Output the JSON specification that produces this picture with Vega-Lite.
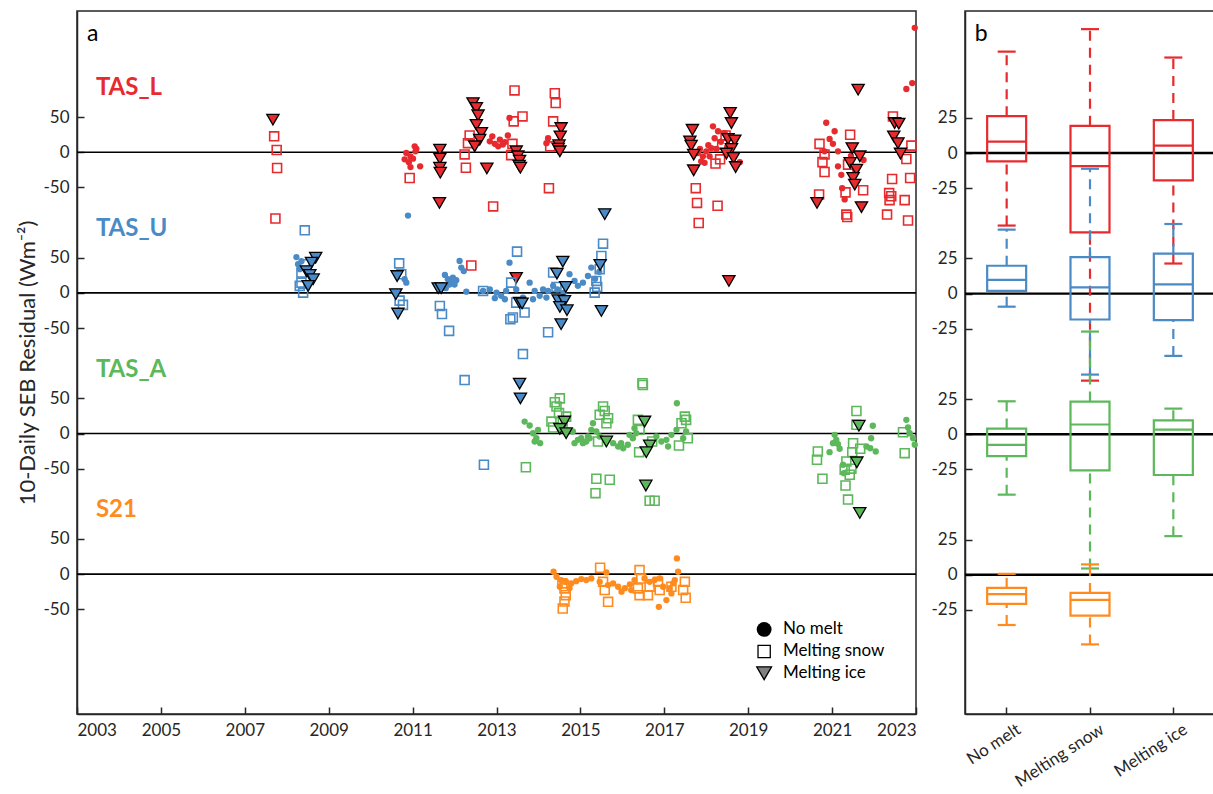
{
"$schema":"https://vega.github.io/schema/vega-lite/v6.json",
"background":"white",
"padding":{"left":15,"top":10,"right":0,"bottom":0},
"datasets":{
"pts":[
{"series":"TAS_L","type":"No melt","year":2010.81,"v":-10},{"series":"TAS_L","type":"No melt","year":2010.85,"v":-1},{"series":"TAS_L","type":"No melt","year":2010.91,"v":-14},{"series":"TAS_L","type":"No melt","year":2010.95,"v":-6},{"series":"TAS_L","type":"No melt","year":2010.95,"v":-21},{"series":"TAS_L","type":"No melt","year":2011.01,"v":-9},{"series":"TAS_L","type":"No melt","year":2011.05,"v":8.5},{"series":"TAS_L","type":"No melt","year":2011.07,"v":1.4},{"series":"TAS_L","type":"No melt","year":2011.09,"v":5},{"series":"TAS_L","type":"No melt","year":2011.18,"v":-20},
{"series":"TAS_L","type":"No melt","year":2012.84,"v":15.6},{"series":"TAS_L","type":"No melt","year":2012.96,"v":12},{"series":"TAS_L","type":"No melt","year":2013.08,"v":18},{"series":"TAS_L","type":"No melt","year":2013.2,"v":14.6},{"series":"TAS_L","type":"No melt","year":2013.27,"v":24},{"series":"TAS_L","type":"No melt","year":2013.04,"v":8.5},{"series":"TAS_L","type":"No melt","year":2013.15,"v":11},{"series":"TAS_L","type":"No melt","year":2012.9,"v":22.7},{"series":"TAS_L","type":"No melt","year":2013.31,"v":48.8},{"series":"TAS_L","type":"No melt","year":2014.23,"v":20},{"series":"TAS_L","type":"No melt","year":2014.19,"v":13},
{"series":"TAS_L","type":"No melt","year":2018.16,"v":37},{"series":"TAS_L","type":"No melt","year":2018.2,"v":20},{"series":"TAS_L","type":"No melt","year":2018.12,"v":6},{"series":"TAS_L","type":"No melt","year":2018.0,"v":1.4},{"series":"TAS_L","type":"No melt","year":2017.92,"v":-5.7},{"series":"TAS_L","type":"No melt","year":2017.88,"v":-12.8},{"series":"TAS_L","type":"No melt","year":2018.08,"v":-5.7},{"series":"TAS_L","type":"No melt","year":2018.24,"v":4.7},{"series":"TAS_L","type":"No melt","year":2018.44,"v":27.4},{"series":"TAS_L","type":"No melt","year":2018.28,"v":30},{"series":"TAS_L","type":"No melt","year":2018.8,"v":-14},{"series":"TAS_L","type":"No melt","year":2017.8,"v":-1},{"series":"TAS_L","type":"No melt","year":2017.96,"v":-15},{"series":"TAS_L","type":"No melt","year":2017.85,"v":5},{"series":"TAS_L","type":"No melt","year":2018.05,"v":10},{"series":"TAS_L","type":"No melt","year":2018.35,"v":15},{"series":"TAS_L","type":"No melt","year":2018.5,"v":8},
{"series":"TAS_L","type":"No melt","year":2020.86,"v":42},{"series":"TAS_L","type":"No melt","year":2021.06,"v":30},{"series":"TAS_L","type":"No melt","year":2020.94,"v":19},{"series":"TAS_L","type":"No melt","year":2021.02,"v":12},{"series":"TAS_L","type":"No melt","year":2021.14,"v":1.4},{"series":"TAS_L","type":"No melt","year":2020.82,"v":1.4},{"series":"TAS_L","type":"No melt","year":2021.14,"v":-20},{"series":"TAS_L","type":"No melt","year":2021.22,"v":-32},{"series":"TAS_L","type":"No melt","year":2021.24,"v":-51},{"series":"TAS_L","type":"No melt","year":2021.3,"v":-67},{"series":"TAS_L","type":"No melt","year":2021.75,"v":-11},{"series":"TAS_L","type":"No melt","year":2022.77,"v":90},{"series":"TAS_L","type":"No melt","year":2022.91,"v":98.5},{"series":"TAS_L","type":"No melt","year":2022.97,"v":177},{"series":"TAS_L","type":"No melt","year":2021.45,"v":-5},{"series":"TAS_L","type":"No melt","year":2021.55,"v":-25},
{"series":"TAS_L","type":"Melting snow","year":2007.7,"v":22.7},{"series":"TAS_L","type":"Melting snow","year":2007.76,"v":3.3},{"series":"TAS_L","type":"Melting snow","year":2007.77,"v":-22.3},{"series":"TAS_L","type":"Melting snow","year":2007.73,"v":-94.2},{"series":"TAS_L","type":"Melting snow","year":2010.93,"v":-36.5},{"series":"TAS_L","type":"Melting snow","year":2012.36,"v":24},{"series":"TAS_L","type":"Melting snow","year":2012.32,"v":13},{"series":"TAS_L","type":"Melting snow","year":2012.24,"v":-3},{"series":"TAS_L","type":"Melting snow","year":2012.27,"v":-22},{"series":"TAS_L","type":"Melting snow","year":2013.43,"v":88},{"series":"TAS_L","type":"Melting snow","year":2013.62,"v":51},{"series":"TAS_L","type":"Melting snow","year":2013.41,"v":44},{"series":"TAS_L","type":"Melting snow","year":2013.38,"v":12},{"series":"TAS_L","type":"Melting snow","year":2013.35,"v":-4},{"series":"TAS_L","type":"Melting snow","year":2012.92,"v":-77},{"series":"TAS_L","type":"Melting snow","year":2014.39,"v":84},{"series":"TAS_L","type":"Melting snow","year":2014.41,"v":70},{"series":"TAS_L","type":"Melting snow","year":2014.35,"v":44},{"series":"TAS_L","type":"Melting snow","year":2014.25,"v":-51},{"series":"TAS_L","type":"Melting snow","year":2014.28,"v":8.5},{"series":"TAS_L","type":"Melting snow","year":2012.4,"v":-161},
{"series":"TAS_L","type":"Melting snow","year":2018.22,"v":-16},{"series":"TAS_L","type":"Melting snow","year":2018.33,"v":-10},{"series":"TAS_L","type":"Melting snow","year":2018.38,"v":11},{"series":"TAS_L","type":"Melting snow","year":2018.46,"v":24},{"series":"TAS_L","type":"Melting snow","year":2017.75,"v":-51},{"series":"TAS_L","type":"Melting snow","year":2017.78,"v":-72},{"series":"TAS_L","type":"Melting snow","year":2017.82,"v":-100.5},{"series":"TAS_L","type":"Melting snow","year":2018.27,"v":-76},
{"series":"TAS_L","type":"Melting snow","year":2020.7,"v":12},{"series":"TAS_L","type":"Melting snow","year":2020.82,"v":-3},{"series":"TAS_L","type":"Melting snow","year":2020.77,"v":-14},{"series":"TAS_L","type":"Melting snow","year":2020.82,"v":-28},{"series":"TAS_L","type":"Melting snow","year":2020.69,"v":-60},{"series":"TAS_L","type":"Melting snow","year":2021.43,"v":25},{"series":"TAS_L","type":"Melting snow","year":2021.38,"v":-17.5},{"series":"TAS_L","type":"Melting snow","year":2021.32,"v":-57},{"series":"TAS_L","type":"Melting snow","year":2021.34,"v":-88.6},{"series":"TAS_L","type":"Melting snow","year":2021.36,"v":-92},{"series":"TAS_L","type":"Melting snow","year":2021.74,"v":-54},{"series":"TAS_L","type":"Melting snow","year":2022.45,"v":51},{"series":"TAS_L","type":"Melting snow","year":2022.89,"v":9.5},{"series":"TAS_L","type":"Melting snow","year":2022.77,"v":-9.5},{"series":"TAS_L","type":"Melting snow","year":2022.43,"v":-38},{"series":"TAS_L","type":"Melting snow","year":2022.86,"v":-36.5},{"series":"TAS_L","type":"Melting snow","year":2022.36,"v":-58},{"series":"TAS_L","type":"Melting snow","year":2022.41,"v":-62.5},{"series":"TAS_L","type":"Melting snow","year":2022.37,"v":-68},{"series":"TAS_L","type":"Melting snow","year":2022.73,"v":-68},{"series":"TAS_L","type":"Melting snow","year":2022.31,"v":-88.6},{"series":"TAS_L","type":"Melting snow","year":2022.81,"v":-97},
{"series":"TAS_L","type":"Melting ice","year":2007.67,"v":46.5},{"series":"TAS_L","type":"Melting ice","year":2011.65,"v":3.8},{"series":"TAS_L","type":"Melting ice","year":2011.65,"v":-9},{"series":"TAS_L","type":"Melting ice","year":2011.65,"v":-22},{"series":"TAS_L","type":"Melting ice","year":2011.66,"v":-29},{"series":"TAS_L","type":"Melting ice","year":2011.64,"v":-72},{"series":"TAS_L","type":"Melting ice","year":2012.44,"v":70},{"series":"TAS_L","type":"Melting ice","year":2012.52,"v":63},{"series":"TAS_L","type":"Melting ice","year":2012.56,"v":52.6},{"series":"TAS_L","type":"Melting ice","year":2012.52,"v":39},{"series":"TAS_L","type":"Melting ice","year":2012.64,"v":27.5},{"series":"TAS_L","type":"Melting ice","year":2012.6,"v":18},{"series":"TAS_L","type":"Melting ice","year":2012.48,"v":8.5},{"series":"TAS_L","type":"Melting ice","year":2012.77,"v":-23},{"series":"TAS_L","type":"Melting ice","year":2013.47,"v":1.4},{"series":"TAS_L","type":"Melting ice","year":2013.47,"v":-178.6},{"series":"TAS_L","type":"Melting ice","year":2013.51,"v":-5.7},{"series":"TAS_L","type":"Melting ice","year":2013.55,"v":-12},{"series":"TAS_L","type":"Melting ice","year":2013.54,"v":-19},{"series":"TAS_L","type":"Melting ice","year":2013.57,"v":-22},{"series":"TAS_L","type":"Melting ice","year":2014.54,"v":34.5},{"series":"TAS_L","type":"Melting ice","year":2014.52,"v":22.7},{"series":"TAS_L","type":"Melting ice","year":2014.49,"v":10},{"series":"TAS_L","type":"Melting ice","year":2014.47,"v":5.2},{"series":"TAS_L","type":"Melting ice","year":2014.51,"v":1.4},
{"series":"TAS_L","type":"Melting ice","year":2017.67,"v":32},{"series":"TAS_L","type":"Melting ice","year":2017.61,"v":15.6},{"series":"TAS_L","type":"Melting ice","year":2017.64,"v":9.5},{"series":"TAS_L","type":"Melting ice","year":2017.7,"v":-3.3},{"series":"TAS_L","type":"Melting ice","year":2017.7,"v":-25.6},{"series":"TAS_L","type":"Melting ice","year":2018.57,"v":56},{"series":"TAS_L","type":"Melting ice","year":2018.6,"v":41.6},{"series":"TAS_L","type":"Melting ice","year":2018.52,"v":19},{"series":"TAS_L","type":"Melting ice","year":2018.68,"v":17},{"series":"TAS_L","type":"Melting ice","year":2018.6,"v":4.7},{"series":"TAS_L","type":"Melting ice","year":2018.48,"v":-1.8},{"series":"TAS_L","type":"Melting ice","year":2018.65,"v":-8},{"series":"TAS_L","type":"Melting ice","year":2018.7,"v":-21},{"series":"TAS_L","type":"Melting ice","year":2018.54,"v":-183},
{"series":"TAS_L","type":"Melting ice","year":2021.62,"v":89},{"series":"TAS_L","type":"Melting ice","year":2021.48,"v":6},{"series":"TAS_L","type":"Melting ice","year":2021.66,"v":-5.7},{"series":"TAS_L","type":"Melting ice","year":2021.43,"v":-15},{"series":"TAS_L","type":"Melting ice","year":2021.58,"v":-24.6},{"series":"TAS_L","type":"Melting ice","year":2021.5,"v":-36.5},{"series":"TAS_L","type":"Melting ice","year":2021.54,"v":-46},{"series":"TAS_L","type":"Melting ice","year":2021.7,"v":-78},{"series":"TAS_L","type":"Melting ice","year":2020.64,"v":-72},{"series":"TAS_L","type":"Melting ice","year":2022.49,"v":41.6},{"series":"TAS_L","type":"Melting ice","year":2022.59,"v":40.8},{"series":"TAS_L","type":"Melting ice","year":2022.47,"v":22.7},{"series":"TAS_L","type":"Melting ice","year":2022.57,"v":13},{"series":"TAS_L","type":"Melting ice","year":2022.63,"v":-1.8},
{"series":"TAS_U","type":"No melt","year":2008.23,"v":51},{"series":"TAS_U","type":"No melt","year":2008.27,"v":40.8},{"series":"TAS_U","type":"No melt","year":2008.31,"v":33.7},{"series":"TAS_U","type":"No melt","year":2008.35,"v":45},{"series":"TAS_U","type":"No melt","year":2010.81,"v":19.4},{"series":"TAS_U","type":"No melt","year":2010.85,"v":14.6},{"series":"TAS_U","type":"No melt","year":2010.89,"v":110},{"series":"TAS_U","type":"No melt","year":2011.77,"v":25.6},{"series":"TAS_U","type":"No melt","year":2011.84,"v":19.4},{"series":"TAS_U","type":"No melt","year":2011.92,"v":17},{"series":"TAS_U","type":"No melt","year":2011.96,"v":21.7},{"series":"TAS_U","type":"No melt","year":2012.04,"v":18},{"series":"TAS_U","type":"No melt","year":2011.88,"v":12},{"series":"TAS_U","type":"No melt","year":2012.0,"v":12},{"series":"TAS_U","type":"No melt","year":2012.12,"v":45.5},{"series":"TAS_U","type":"No melt","year":2012.16,"v":36},{"series":"TAS_U","type":"No melt","year":2012.22,"v":31},{"series":"TAS_U","type":"No melt","year":2011.79,"v":6.7},{"series":"TAS_U","type":"No melt","year":2012.28,"v":1.8},{"series":"TAS_U","type":"No melt","year":2012.68,"v":2.8},{"series":"TAS_U","type":"No melt","year":2012.84,"v":5},{"series":"TAS_U","type":"No melt","year":2013.0,"v":0.4},{"series":"TAS_U","type":"No melt","year":2013.11,"v":-4},{"series":"TAS_U","type":"No melt","year":2013.23,"v":2.8},{"series":"TAS_U","type":"No melt","year":2013.31,"v":43},{"series":"TAS_U","type":"No melt","year":2013.47,"v":5},{"series":"TAS_U","type":"No melt","year":2013.63,"v":-6.7},{"series":"TAS_U","type":"No melt","year":2013.79,"v":14.6},{"series":"TAS_U","type":"No melt","year":2013.91,"v":2.8},{"series":"TAS_U","type":"No melt","year":2014.03,"v":-4},{"series":"TAS_U","type":"No melt","year":2014.11,"v":5},{"series":"TAS_U","type":"No melt","year":2014.23,"v":2.8},{"series":"TAS_U","type":"No melt","year":2014.35,"v":10},{"series":"TAS_U","type":"No melt","year":2014.74,"v":26.6},{"series":"TAS_U","type":"No melt","year":2014.86,"v":17},{"series":"TAS_U","type":"No melt","year":2014.94,"v":10},{"series":"TAS_U","type":"No melt","year":2015.06,"v":14.6},{"series":"TAS_U","type":"No melt","year":2015.18,"v":24},{"series":"TAS_U","type":"No melt","year":2015.26,"v":36},{"series":"TAS_U","type":"No melt","year":2012.96,"v":-7.5},{"series":"TAS_U","type":"No melt","year":2013.2,"v":-9},{"series":"TAS_U","type":"No melt","year":2013.87,"v":-9},{"series":"TAS_U","type":"No melt","year":2014.19,"v":-6.7},{"series":"TAS_U","type":"No melt","year":2014.45,"v":5},{"series":"TAS_U","type":"No melt","year":2014.6,"v":0},{"series":"TAS_U","type":"No melt","year":2015.35,"v":20},{"series":"TAS_U","type":"No melt","year":2015.45,"v":30},
{"series":"TAS_U","type":"Melting snow","year":2008.43,"v":89},{"series":"TAS_U","type":"Melting snow","year":2008.43,"v":40.8},{"series":"TAS_U","type":"Melting snow","year":2008.35,"v":29},{"series":"TAS_U","type":"Melting snow","year":2008.31,"v":10},{"series":"TAS_U","type":"Melting snow","year":2008.39,"v":0.4},{"series":"TAS_U","type":"Melting snow","year":2008.35,"v":14.6},{"series":"TAS_U","type":"Melting snow","year":2010.68,"v":42},{"series":"TAS_U","type":"Melting snow","year":2010.73,"v":26.6},{"series":"TAS_U","type":"Melting snow","year":2010.69,"v":-11},{"series":"TAS_U","type":"Melting snow","year":2010.77,"v":-17},{"series":"TAS_U","type":"Melting snow","year":2011.65,"v":-18.5},{"series":"TAS_U","type":"Melting snow","year":2011.7,"v":-30},{"series":"TAS_U","type":"Melting snow","year":2011.87,"v":-54},{"series":"TAS_U","type":"Melting snow","year":2012.24,"v":-124},{"series":"TAS_U","type":"Melting snow","year":2012.7,"v":-244.5},{"series":"TAS_U","type":"Melting snow","year":2012.68,"v":2.8},{"series":"TAS_U","type":"Melting snow","year":2013.49,"v":58.7},{"series":"TAS_U","type":"Melting snow","year":2013.35,"v":14.6},{"series":"TAS_U","type":"Melting snow","year":2013.47,"v":-13.8},{"series":"TAS_U","type":"Melting snow","year":2013.67,"v":-28},{"series":"TAS_U","type":"Melting snow","year":2013.39,"v":-35},{"series":"TAS_U","type":"Melting snow","year":2013.33,"v":-37.4},{"series":"TAS_U","type":"Melting snow","year":2013.63,"v":-87},{"series":"TAS_U","type":"Melting snow","year":2014.23,"v":-56},{"series":"TAS_U","type":"Melting snow","year":2014.35,"v":29},{"series":"TAS_U","type":"Melting snow","year":2014.43,"v":8.5},{"series":"TAS_U","type":"Melting snow","year":2015.54,"v":70},{"series":"TAS_U","type":"Melting snow","year":2015.5,"v":52.6},{"series":"TAS_U","type":"Melting snow","year":2015.46,"v":33.7},{"series":"TAS_U","type":"Melting snow","year":2015.38,"v":17},{"series":"TAS_U","type":"Melting snow","year":2015.4,"v":8.5},{"series":"TAS_U","type":"Melting snow","year":2015.34,"v":0.4},
{"series":"TAS_U","type":"Melting ice","year":2008.69,"v":50},{"series":"TAS_U","type":"Melting ice","year":2008.59,"v":43},{"series":"TAS_U","type":"Melting ice","year":2008.47,"v":31},{"series":"TAS_U","type":"Melting ice","year":2008.55,"v":25.6},{"series":"TAS_U","type":"Melting ice","year":2008.63,"v":19.4},{"series":"TAS_U","type":"Melting ice","year":2008.51,"v":10},{"series":"TAS_U","type":"Melting ice","year":2010.63,"v":24},{"series":"TAS_U","type":"Melting ice","year":2010.6,"v":-1.8},{"series":"TAS_U","type":"Melting ice","year":2010.65,"v":-29.4},{"series":"TAS_U","type":"Melting ice","year":2011.61,"v":6.7},{"series":"TAS_U","type":"Melting ice","year":2011.68,"v":6.7},{"series":"TAS_U","type":"Melting ice","year":2013.55,"v":-13.8},{"series":"TAS_U","type":"Melting ice","year":2013.61,"v":-15},{"series":"TAS_U","type":"Melting ice","year":2013.55,"v":-129},{"series":"TAS_U","type":"Melting ice","year":2013.57,"v":-150},{"series":"TAS_U","type":"Melting ice","year":2014.58,"v":44.5},{"series":"TAS_U","type":"Melting ice","year":2014.44,"v":27.4},{"series":"TAS_U","type":"Melting ice","year":2014.65,"v":8.5},{"series":"TAS_U","type":"Melting ice","year":2014.47,"v":-10.4},{"series":"TAS_U","type":"Melting ice","year":2014.62,"v":-11.4},{"series":"TAS_U","type":"Melting ice","year":2014.51,"v":-20},{"series":"TAS_U","type":"Melting ice","year":2014.68,"v":-24.6},{"series":"TAS_U","type":"Melting ice","year":2014.54,"v":-44.5},{"series":"TAS_U","type":"Melting ice","year":2015.58,"v":112},{"series":"TAS_U","type":"Melting ice","year":2015.47,"v":39.8},{"series":"TAS_U","type":"Melting ice","year":2015.5,"v":-25.6},
{"series":"TAS_A","type":"No melt","year":2013.67,"v":17},{"series":"TAS_A","type":"No melt","year":2013.79,"v":11.4},{"series":"TAS_A","type":"No melt","year":2013.99,"v":5.2},{"series":"TAS_A","type":"No melt","year":2013.87,"v":0.4},{"series":"TAS_A","type":"No melt","year":2013.95,"v":-6.7},{"series":"TAS_A","type":"No melt","year":2014.04,"v":-13.8},{"series":"TAS_A","type":"No melt","year":2013.91,"v":-11.4},{"series":"TAS_A","type":"No melt","year":2014.82,"v":2.8},{"series":"TAS_A","type":"No melt","year":2014.94,"v":-9},{"series":"TAS_A","type":"No melt","year":2015.06,"v":-13.8},{"series":"TAS_A","type":"No melt","year":2015.18,"v":-4.3},{"series":"TAS_A","type":"No melt","year":2015.26,"v":5.2},{"series":"TAS_A","type":"No melt","year":2015.3,"v":14.6},{"series":"TAS_A","type":"No melt","year":2015.38,"v":2.8},{"series":"TAS_A","type":"No melt","year":2015.46,"v":-4.3},{"series":"TAS_A","type":"No melt","year":2015.02,"v":-6.7},{"series":"TAS_A","type":"No melt","year":2014.86,"v":-13.8},{"series":"TAS_A","type":"No melt","year":2015.14,"v":-11.4},{"series":"TAS_A","type":"No melt","year":2015.22,"v":-6.7},{"series":"TAS_A","type":"No melt","year":2015.78,"v":-13.8},{"series":"TAS_A","type":"No melt","year":2015.9,"v":-18.5},{"series":"TAS_A","type":"No melt","year":2016.02,"v":-21},{"series":"TAS_A","type":"No melt","year":2016.13,"v":-16},{"series":"TAS_A","type":"No melt","year":2016.25,"v":-6.7},{"series":"TAS_A","type":"No melt","year":2016.33,"v":0.4},{"series":"TAS_A","type":"No melt","year":2015.97,"v":-13.8},{"series":"TAS_A","type":"No melt","year":2016.17,"v":-1.9},{"series":"TAS_A","type":"No melt","year":2016.29,"v":7.5},{"series":"TAS_A","type":"No melt","year":2016.81,"v":-4.3},{"series":"TAS_A","type":"No melt","year":2016.93,"v":-11.4},{"series":"TAS_A","type":"No melt","year":2017.05,"v":-9},{"series":"TAS_A","type":"No melt","year":2017.17,"v":-1.9},{"series":"TAS_A","type":"No melt","year":2017.29,"v":5.2},{"series":"TAS_A","type":"No melt","year":2017.3,"v":43},{"series":"TAS_A","type":"No melt","year":2017.45,"v":-6.7},{"series":"TAS_A","type":"No melt","year":2017.09,"v":-18.5},{"series":"TAS_A","type":"No melt","year":2017.52,"v":2.8},
{"series":"TAS_A","type":"No melt","year":2021.06,"v":-1.9},{"series":"TAS_A","type":"No melt","year":2021.1,"v":-9},{"series":"TAS_A","type":"No melt","year":2021.02,"v":-13.8},{"series":"TAS_A","type":"No melt","year":2021.14,"v":-15},{"series":"TAS_A","type":"No melt","year":2020.94,"v":-26.6},{"series":"TAS_A","type":"No melt","year":2021.18,"v":-21.7},{"series":"TAS_A","type":"No melt","year":2021.97,"v":11},{"series":"TAS_A","type":"No melt","year":2021.93,"v":-6.7},{"series":"TAS_A","type":"No melt","year":2021.82,"v":-18.5},{"series":"TAS_A","type":"No melt","year":2021.91,"v":-21},{"series":"TAS_A","type":"No melt","year":2022.04,"v":-25.6},{"series":"TAS_A","type":"No melt","year":2021.26,"v":-44.5},{"series":"TAS_A","type":"No melt","year":2021.28,"v":-56.4},{"series":"TAS_A","type":"No melt","year":2022.77,"v":19.4},{"series":"TAS_A","type":"No melt","year":2022.85,"v":0.4},{"series":"TAS_A","type":"No melt","year":2022.93,"v":-6.7},{"series":"TAS_A","type":"No melt","year":2022.97,"v":-16},{"series":"TAS_A","type":"No melt","year":2022.81,"v":8.5},
{"series":"TAS_A","type":"Melting snow","year":2014.51,"v":50},{"series":"TAS_A","type":"Melting snow","year":2014.39,"v":44.5},{"series":"TAS_A","type":"Melting snow","year":2014.43,"v":38.4},{"series":"TAS_A","type":"Melting snow","year":2014.49,"v":29},{"series":"TAS_A","type":"Melting snow","year":2014.66,"v":24},{"series":"TAS_A","type":"Melting snow","year":2014.31,"v":17},{"series":"TAS_A","type":"Melting snow","year":2014.58,"v":17},{"series":"TAS_A","type":"Melting snow","year":2014.35,"v":8.5},{"series":"TAS_A","type":"Melting snow","year":2013.7,"v":-48},{"series":"TAS_A","type":"Melting snow","year":2015.54,"v":38.4},{"series":"TAS_A","type":"Melting snow","year":2015.58,"v":32},{"series":"TAS_A","type":"Melting snow","year":2015.46,"v":26.6},{"series":"TAS_A","type":"Melting snow","year":2015.66,"v":21.7},{"series":"TAS_A","type":"Melting snow","year":2015.62,"v":14.6},{"series":"TAS_A","type":"Melting snow","year":2015.42,"v":-11.4},{"series":"TAS_A","type":"Melting snow","year":2015.38,"v":-64.4},{"series":"TAS_A","type":"Melting snow","year":2015.7,"v":-65.8},{"series":"TAS_A","type":"Melting snow","year":2015.36,"v":-84.9},{"series":"TAS_A","type":"Melting snow","year":2016.48,"v":71.5},{"series":"TAS_A","type":"Melting snow","year":2016.49,"v":69},{"series":"TAS_A","type":"Melting snow","year":2016.37,"v":19.4},{"series":"TAS_A","type":"Melting snow","year":2016.41,"v":5.2},{"series":"TAS_A","type":"Melting snow","year":2016.4,"v":-26.6},{"series":"TAS_A","type":"Melting snow","year":2016.71,"v":-11.4},{"series":"TAS_A","type":"Melting snow","year":2016.65,"v":-95.7},{"series":"TAS_A","type":"Melting snow","year":2016.77,"v":-95.7},{"series":"TAS_A","type":"Melting snow","year":2017.49,"v":24},{"series":"TAS_A","type":"Melting snow","year":2017.52,"v":19.4},{"series":"TAS_A","type":"Melting snow","year":2017.41,"v":14.6},{"series":"TAS_A","type":"Melting snow","year":2017.56,"v":-6.7},{"series":"TAS_A","type":"Melting snow","year":2017.35,"v":-17},
{"series":"TAS_A","type":"Melting snow","year":2021.58,"v":32},{"series":"TAS_A","type":"Melting snow","year":2021.58,"v":12.4},{"series":"TAS_A","type":"Melting snow","year":2021.5,"v":-13.8},{"series":"TAS_A","type":"Melting snow","year":2021.48,"v":-26.6},{"series":"TAS_A","type":"Melting snow","year":2021.67,"v":-21.7},{"series":"TAS_A","type":"Melting snow","year":2020.66,"v":-25.6},{"series":"TAS_A","type":"Melting snow","year":2020.64,"v":-37.4},{"series":"TAS_A","type":"Melting snow","year":2020.77,"v":-64.4},{"series":"TAS_A","type":"Melting snow","year":2021.34,"v":-39.8},{"series":"TAS_A","type":"Melting snow","year":2021.3,"v":-51.6},{"series":"TAS_A","type":"Melting snow","year":2021.46,"v":-50},{"series":"TAS_A","type":"Melting snow","year":2021.42,"v":-58.7},{"series":"TAS_A","type":"Melting snow","year":2021.32,"v":-74},{"series":"TAS_A","type":"Melting snow","year":2021.38,"v":-94},{"series":"TAS_A","type":"Melting snow","year":2022.69,"v":1.8},{"series":"TAS_A","type":"Melting snow","year":2022.73,"v":-28},
{"series":"TAS_A","type":"Melting ice","year":2014.62,"v":17},{"series":"TAS_A","type":"Melting ice","year":2014.51,"v":6.7},{"series":"TAS_A","type":"Melting ice","year":2014.66,"v":0.4},{"series":"TAS_A","type":"Melting ice","year":2015.62,"v":-11.4},{"series":"TAS_A","type":"Melting ice","year":2016.53,"v":17},{"series":"TAS_A","type":"Melting ice","year":2016.65,"v":-17},{"series":"TAS_A","type":"Melting ice","year":2016.57,"v":-26.6},{"series":"TAS_A","type":"Melting ice","year":2016.56,"v":-74},{"series":"TAS_A","type":"Melting ice","year":2021.64,"v":11},{"series":"TAS_A","type":"Melting ice","year":2021.59,"v":-41},{"series":"TAS_A","type":"Melting ice","year":2021.66,"v":-113},
{"series":"S21","type":"No melt","year":2014.36,"v":3.3},{"series":"S21","type":"No melt","year":2014.43,"v":-3.8},{"series":"S21","type":"No melt","year":2014.54,"v":-8.5},{"series":"S21","type":"No melt","year":2014.66,"v":-11},{"series":"S21","type":"No melt","year":2014.78,"v":-13.2},{"series":"S21","type":"No melt","year":2014.9,"v":-10},{"series":"S21","type":"No melt","year":2015.02,"v":-7.1},{"series":"S21","type":"No melt","year":2015.14,"v":-8.5},{"series":"S21","type":"No melt","year":2015.26,"v":-6.2},{"series":"S21","type":"No melt","year":2014.74,"v":-20},{"series":"S21","type":"No melt","year":2014.51,"v":-18},{"series":"S21","type":"No melt","year":2015.46,"v":-11},{"series":"S21","type":"No melt","year":2015.62,"v":2.4},{"series":"S21","type":"No melt","year":2015.66,"v":-15.6},{"series":"S21","type":"No melt","year":2015.78,"v":-13.2},{"series":"S21","type":"No melt","year":2015.9,"v":-18},{"series":"S21","type":"No melt","year":2015.98,"v":-25},{"series":"S21","type":"No melt","year":2016.06,"v":-20},{"series":"S21","type":"No melt","year":2016.18,"v":-14.6},{"series":"S21","type":"No melt","year":2016.29,"v":-8.5},{"series":"S21","type":"No melt","year":2016.21,"v":-22.7},{"series":"S21","type":"No melt","year":2016.53,"v":-6.2},{"series":"S21","type":"No melt","year":2016.65,"v":-11},{"series":"S21","type":"No melt","year":2016.77,"v":-8.5},{"series":"S21","type":"No melt","year":2016.89,"v":-6.2},{"series":"S21","type":"No melt","year":2016.97,"v":-18},{"series":"S21","type":"No melt","year":2017.13,"v":-20},{"series":"S21","type":"No melt","year":2017.25,"v":-8.5},{"series":"S21","type":"No melt","year":2017.33,"v":3.3},{"series":"S21","type":"No melt","year":2017.3,"v":22.3},{"series":"S21","type":"No melt","year":2017.17,"v":-27.5},{"series":"S21","type":"No melt","year":2017.05,"v":-37},{"series":"S21","type":"No melt","year":2016.87,"v":-46.5},{"series":"S21","type":"No melt","year":2017.21,"v":-13.2},
{"series":"S21","type":"Melting snow","year":2015.47,"v":9},{"series":"S21","type":"Melting snow","year":2015.58,"v":-22.7},{"series":"S21","type":"Melting snow","year":2015.54,"v":-11},{"series":"S21","type":"Melting snow","year":2015.66,"v":-39.4},{"series":"S21","type":"Melting snow","year":2014.57,"v":-13.2},{"series":"S21","type":"Melting snow","year":2014.62,"v":-20.3},{"series":"S21","type":"Melting snow","year":2014.65,"v":-30},{"series":"S21","type":"Melting snow","year":2014.62,"v":-39},{"series":"S21","type":"Melting snow","year":2014.58,"v":-49},{"series":"S21","type":"Melting snow","year":2016.41,"v":5.7},{"series":"S21","type":"Melting snow","year":2016.45,"v":-6.2},{"series":"S21","type":"Melting snow","year":2016.37,"v":-20.3},{"series":"S21","type":"Melting snow","year":2016.41,"v":-30},{"series":"S21","type":"Melting snow","year":2016.65,"v":-18},{"series":"S21","type":"Melting snow","year":2016.61,"v":-30},{"series":"S21","type":"Melting snow","year":2016.85,"v":-11},{"series":"S21","type":"Melting snow","year":2016.89,"v":-22.7},{"series":"S21","type":"Melting snow","year":2017.49,"v":-11},{"series":"S21","type":"Melting snow","year":2017.45,"v":-22.7},{"series":"S21","type":"Melting snow","year":2017.51,"v":-33.6},{"series":"S21","type":"Melting snow","year":2017.17,"v":-18}
],
"box":[
{"series":"TAS_L","cat":"No melt","lo":-51.6,"q1":-5.9,"med":8.1,"q3":26.2,"hi":72.1},
{"series":"TAS_L","cat":"Melting snow","lo":-161.9,"q1":-56.4,"med":-9.3,"q3":19.3,"hi":88.1},
{"series":"TAS_L","cat":"Melting ice","lo":-78.6,"q1":-19.5,"med":5.3,"q3":23.4,"hi":67.9},
{"series":"TAS_U","cat":"No melt","lo":-9.3,"q1":1.9,"med":9.8,"q3":19.8,"hi":45.5},
{"series":"TAS_U","cat":"Melting snow","lo":-57.6,"q1":-18.4,"med":4.5,"q3":25.9,"hi":88.8},
{"series":"TAS_U","cat":"Melting ice","lo":-44.3,"q1":-18.8,"med":6.6,"q3":28.4,"hi":49.5},
{"series":"TAS_A","cat":"No melt","lo":-43,"q1":-15.6,"med":-7.6,"q3":4,"hi":23.4},
{"series":"TAS_A","cat":"Melting snow","lo":-95.5,"q1":-25.7,"med":6.9,"q3":23.2,"hi":73},
{"series":"TAS_A","cat":"Melting ice","lo":-72.5,"q1":-29,"med":3.3,"q3":9.9,"hi":18.2},
{"series":"S21","cat":"No melt","lo":-35.7,"q1":-20.7,"med":-13.8,"q3":-9.3,"hi":0.7},
{"series":"S21","cat":"Melting snow","lo":-49.5,"q1":-29,"med":-17.9,"q3":-12.9,"hi":7.4}
]
},
"bounds":"flush",
"spacing":49,
"hconcat":[
{
"width":839,"height":703,
"data":{"name":"pts"},
"resolve":{"scale":{"y":"independent"}},
"layer":[
{"data":{"values":[{}]},"mark":{"type":"rule","color":"black","strokeWidth":1.6},"encoding":{"y":{"datum":0,"type":"quantitative","scale":{"domain":[-199,801],"nice":false,"zero":false},"axis":{"orient":"left","values":[-50,0,50,150,200,250,350,400,450,550,600,650],"labelExpr":"datum.value - 200*round(datum.value/200)","title":"10-Daily SEB Residual (Wm⁻²)","titleX":-43,"titleBaseline":"alphabetic","titleAngle":-90,"titleFontSize":22}}}},
{"data":{"values":[{}]},"mark":{"type":"rule","color":"black","strokeWidth":1.6},"encoding":{"y":{"datum":200,"type":"quantitative","scale":{"domain":[-199,801],"nice":false,"zero":false},"axis":null}}},
{"data":{"values":[{}]},"mark":{"type":"rule","color":"black","strokeWidth":1.6},"encoding":{"y":{"datum":400,"type":"quantitative","scale":{"domain":[-199,801],"nice":false,"zero":false},"axis":null}}},
{"data":{"values":[{}]},"mark":{"type":"rule","color":"black","strokeWidth":1.6},"encoding":{"y":{"datum":600,"type":"quantitative","scale":{"domain":[-199,801],"nice":false,"zero":false},"axis":null}}},
{"data":{"values":[{}]},"mark":{"type":"text","text":"a","color":"black","fontSize":23,"font":"Lato","align":"left","baseline":"alphabetic"},"encoding":{"x":{"datum":2003.24,"type":"quantitative","scale":{"domain":[2003,2023],"nice":false,"zero":false},"axis":{"orient":"bottom","values":[2003,2005,2007,2009,2011,2013,2015,2017,2019,2021,2023],"format":"d","title":null}},"y":{"datum":758,"type":"quantitative","scale":{"domain":[-199,801],"nice":false,"zero":false},"axis":null}}},
{"data":{"values":[{}]},"mark":{"type":"text","text":"TAS_L","color":"#e62a2e","fontSize":24,"fontWeight":"bold","font":"Lato","align":"left","baseline":"middle"},"encoding":{"x":{"datum":2003.45,"type":"quantitative","scale":{"domain":[2003,2023],"nice":false,"zero":false},"axis":{"orient":"bottom","values":[2003,2005,2007,2009,2011,2013,2015,2017,2019,2021,2023],"format":"d","title":null}},"y":{"datum":691,"type":"quantitative","scale":{"domain":[-199,801],"nice":false,"zero":false},"axis":null}}},
{"data":{"values":[{}]},"mark":{"type":"text","text":"TAS_U","color":"#4a8ac6","fontSize":24,"fontWeight":"bold","font":"Lato","align":"left","baseline":"middle"},"encoding":{"x":{"datum":2003.45,"type":"quantitative","scale":{"domain":[2003,2023],"nice":false,"zero":false},"axis":{"orient":"bottom","values":[2003,2005,2007,2009,2011,2013,2015,2017,2019,2021,2023],"format":"d","title":null}},"y":{"datum":491,"type":"quantitative","scale":{"domain":[-199,801],"nice":false,"zero":false},"axis":null}}},
{"data":{"values":[{}]},"mark":{"type":"text","text":"TAS_A","color":"#5cb85a","fontSize":24,"fontWeight":"bold","font":"Lato","align":"left","baseline":"middle"},"encoding":{"x":{"datum":2003.45,"type":"quantitative","scale":{"domain":[2003,2023],"nice":false,"zero":false},"axis":{"orient":"bottom","values":[2003,2005,2007,2009,2011,2013,2015,2017,2019,2021,2023],"format":"d","title":null}},"y":{"datum":291,"type":"quantitative","scale":{"domain":[-199,801],"nice":false,"zero":false},"axis":null}}},
{"data":{"values":[{}]},"mark":{"type":"text","text":"S21","color":"#ff8b1e","fontSize":24,"fontWeight":"bold","font":"Lato","align":"left","baseline":"middle"},"encoding":{"x":{"datum":2003.45,"type":"quantitative","scale":{"domain":[2003,2023],"nice":false,"zero":false},"axis":{"orient":"bottom","values":[2003,2005,2007,2009,2011,2013,2015,2017,2019,2021,2023],"format":"d","title":null}},"y":{"datum":91,"type":"quantitative","scale":{"domain":[-199,801],"nice":false,"zero":false},"axis":null}}},
{"data":{"values":[{}]},"mark":{"type":"point","shape":"circle","filled":true,"size":220,"color":"black","opacity":1},"encoding":{"x":{"datum":2019.38,"type":"quantitative","scale":{"domain":[2003,2023],"nice":false,"zero":false},"axis":{"orient":"bottom","values":[2003,2005,2007,2009,2011,2013,2015,2017,2019,2021,2023],"format":"d","title":null}},"y":{"datum":-78.7,"type":"quantitative","scale":{"domain":[-199,801],"nice":false,"zero":false},"axis":null}}},
{"data":{"values":[{}]},"mark":{"type":"point","shape":"square","filled":true,"size":150,"fill":"white","stroke":"black","strokeWidth":1.3,"opacity":1},"encoding":{"x":{"datum":2019.38,"type":"quantitative","scale":{"domain":[2003,2023],"nice":false,"zero":false},"axis":{"orient":"bottom","values":[2003,2005,2007,2009,2011,2013,2015,2017,2019,2021,2023],"format":"d","title":null}},"y":{"datum":-110,"type":"quantitative","scale":{"domain":[-199,801],"nice":false,"zero":false},"axis":null}}},
{"data":{"values":[{}]},"mark":{"type":"point","shape":"triangle-down","filled":true,"size":220,"fill":"#808080","stroke":"black","strokeWidth":1.3,"opacity":1},"encoding":{"x":{"datum":2019.38,"type":"quantitative","scale":{"domain":[2003,2023],"nice":false,"zero":false},"axis":{"orient":"bottom","values":[2003,2005,2007,2009,2011,2013,2015,2017,2019,2021,2023],"format":"d","title":null}},"y":{"datum":-141,"type":"quantitative","scale":{"domain":[-199,801],"nice":false,"zero":false},"axis":null}}},
{"data":{"values":[{}]},"mark":{"type":"text","text":"No melt","color":"black","fontSize":17,"font":"Lato","align":"left","baseline":"middle"},"encoding":{"x":{"datum":2019.83,"type":"quantitative","scale":{"domain":[2003,2023],"nice":false,"zero":false},"axis":{"orient":"bottom","values":[2003,2005,2007,2009,2011,2013,2015,2017,2019,2021,2023],"format":"d","title":null}},"y":{"datum":-78.7,"type":"quantitative","scale":{"domain":[-199,801],"nice":false,"zero":false},"axis":null}}},
{"data":{"values":[{}]},"mark":{"type":"text","text":"Melting snow","color":"black","fontSize":17,"font":"Lato","align":"left","baseline":"middle"},"encoding":{"x":{"datum":2019.83,"type":"quantitative","scale":{"domain":[2003,2023],"nice":false,"zero":false},"axis":{"orient":"bottom","values":[2003,2005,2007,2009,2011,2013,2015,2017,2019,2021,2023],"format":"d","title":null}},"y":{"datum":-110,"type":"quantitative","scale":{"domain":[-199,801],"nice":false,"zero":false},"axis":null}}},
{"data":{"values":[{}]},"mark":{"type":"text","text":"Melting ice","color":"black","fontSize":17,"font":"Lato","align":"left","baseline":"middle"},"encoding":{"x":{"datum":2019.83,"type":"quantitative","scale":{"domain":[2003,2023],"nice":false,"zero":false},"axis":{"orient":"bottom","values":[2003,2005,2007,2009,2011,2013,2015,2017,2019,2021,2023],"format":"d","title":null}},"y":{"datum":-141,"type":"quantitative","scale":{"domain":[-199,801],"nice":false,"zero":false},"axis":null}}},

{"transform":[{"filter":"datum.series==='TAS_L' && datum.type==='No melt'"}],"mark":{"type":"point","shape":"circle","filled":true,"size":40,"color":"#e62a2e","opacity":1},"encoding":{"x":{"field":"year","type":"quantitative","scale":{"domain":[2003,2023],"nice":false,"zero":false},"axis":{"orient":"bottom","values":[2003,2005,2007,2009,2011,2013,2015,2017,2019,2021,2023],"format":"d","title":null}},"y":{"field":"v","type":"quantitative","scale":{"domain":[-799,201],"nice":false,"zero":false},"axis":null}}},
{"transform":[{"filter":"datum.series==='TAS_L' && datum.type==='Melting snow'"}],"mark":{"type":"point","shape":"square","filled":false,"size":80,"strokeWidth":1.6,"color":"#e62a2e","opacity":1},"encoding":{"x":{"field":"year","type":"quantitative","scale":{"domain":[2003,2023],"nice":false,"zero":false},"axis":{"orient":"bottom","values":[2003,2005,2007,2009,2011,2013,2015,2017,2019,2021,2023],"format":"d","title":null}},"y":{"field":"v","type":"quantitative","scale":{"domain":[-799,201],"nice":false,"zero":false},"axis":null}}},
{"transform":[{"filter":"datum.series==='TAS_L' && datum.type==='Melting ice'"}],"mark":{"type":"point","shape":"triangle-down","filled":true,"size":150,"fill":"#e62a2e","stroke":"black","strokeWidth":1.3,"opacity":1},"encoding":{"x":{"field":"year","type":"quantitative","scale":{"domain":[2003,2023],"nice":false,"zero":false},"axis":{"orient":"bottom","values":[2003,2005,2007,2009,2011,2013,2015,2017,2019,2021,2023],"format":"d","title":null}},"y":{"field":"v","type":"quantitative","scale":{"domain":[-799,201],"nice":false,"zero":false},"axis":null}}},

{"transform":[{"filter":"datum.series==='TAS_U' && datum.type==='No melt'"}],"mark":{"type":"point","shape":"circle","filled":true,"size":40,"color":"#4a8ac6","opacity":1},"encoding":{"x":{"field":"year","type":"quantitative","scale":{"domain":[2003,2023],"nice":false,"zero":false},"axis":{"orient":"bottom","values":[2003,2005,2007,2009,2011,2013,2015,2017,2019,2021,2023],"format":"d","title":null}},"y":{"field":"v","type":"quantitative","scale":{"domain":[-599,401],"nice":false,"zero":false},"axis":null}}},
{"transform":[{"filter":"datum.series==='TAS_U' && datum.type==='Melting snow'"}],"mark":{"type":"point","shape":"square","filled":false,"size":80,"strokeWidth":1.6,"color":"#4a8ac6","opacity":1},"encoding":{"x":{"field":"year","type":"quantitative","scale":{"domain":[2003,2023],"nice":false,"zero":false},"axis":{"orient":"bottom","values":[2003,2005,2007,2009,2011,2013,2015,2017,2019,2021,2023],"format":"d","title":null}},"y":{"field":"v","type":"quantitative","scale":{"domain":[-599,401],"nice":false,"zero":false},"axis":null}}},
{"transform":[{"filter":"datum.series==='TAS_U' && datum.type==='Melting ice'"}],"mark":{"type":"point","shape":"triangle-down","filled":true,"size":150,"fill":"#4a8ac6","stroke":"black","strokeWidth":1.3,"opacity":1},"encoding":{"x":{"field":"year","type":"quantitative","scale":{"domain":[2003,2023],"nice":false,"zero":false},"axis":{"orient":"bottom","values":[2003,2005,2007,2009,2011,2013,2015,2017,2019,2021,2023],"format":"d","title":null}},"y":{"field":"v","type":"quantitative","scale":{"domain":[-599,401],"nice":false,"zero":false},"axis":null}}},

{"transform":[{"filter":"datum.series==='TAS_A' && datum.type==='No melt'"}],"mark":{"type":"point","shape":"circle","filled":true,"size":40,"color":"#5cb85a","opacity":1},"encoding":{"x":{"field":"year","type":"quantitative","scale":{"domain":[2003,2023],"nice":false,"zero":false},"axis":{"orient":"bottom","values":[2003,2005,2007,2009,2011,2013,2015,2017,2019,2021,2023],"format":"d","title":null}},"y":{"field":"v","type":"quantitative","scale":{"domain":[-399,601],"nice":false,"zero":false},"axis":null}}},
{"transform":[{"filter":"datum.series==='TAS_A' && datum.type==='Melting snow'"}],"mark":{"type":"point","shape":"square","filled":false,"size":80,"strokeWidth":1.6,"color":"#5cb85a","opacity":1},"encoding":{"x":{"field":"year","type":"quantitative","scale":{"domain":[2003,2023],"nice":false,"zero":false},"axis":{"orient":"bottom","values":[2003,2005,2007,2009,2011,2013,2015,2017,2019,2021,2023],"format":"d","title":null}},"y":{"field":"v","type":"quantitative","scale":{"domain":[-399,601],"nice":false,"zero":false},"axis":null}}},
{"transform":[{"filter":"datum.series==='TAS_A' && datum.type==='Melting ice'"}],"mark":{"type":"point","shape":"triangle-down","filled":true,"size":150,"fill":"#5cb85a","stroke":"black","strokeWidth":1.3,"opacity":1},"encoding":{"x":{"field":"year","type":"quantitative","scale":{"domain":[2003,2023],"nice":false,"zero":false},"axis":{"orient":"bottom","values":[2003,2005,2007,2009,2011,2013,2015,2017,2019,2021,2023],"format":"d","title":null}},"y":{"field":"v","type":"quantitative","scale":{"domain":[-399,601],"nice":false,"zero":false},"axis":null}}},

{"transform":[{"filter":"datum.series==='S21' && datum.type==='No melt'"}],"mark":{"type":"point","shape":"circle","filled":true,"size":40,"color":"#ff8b1e","opacity":1},"encoding":{"x":{"field":"year","type":"quantitative","scale":{"domain":[2003,2023],"nice":false,"zero":false},"axis":{"orient":"bottom","values":[2003,2005,2007,2009,2011,2013,2015,2017,2019,2021,2023],"format":"d","title":null}},"y":{"field":"v","type":"quantitative","scale":{"domain":[-199,801],"nice":false,"zero":false},"axis":null}}},
{"transform":[{"filter":"datum.series==='S21' && datum.type==='Melting snow'"}],"mark":{"type":"point","shape":"square","filled":false,"size":80,"strokeWidth":1.6,"color":"#ff8b1e","opacity":1},"encoding":{"x":{"field":"year","type":"quantitative","scale":{"domain":[2003,2023],"nice":false,"zero":false},"axis":{"orient":"bottom","values":[2003,2005,2007,2009,2011,2013,2015,2017,2019,2021,2023],"format":"d","title":null}},"y":{"field":"v","type":"quantitative","scale":{"domain":[-199,801],"nice":false,"zero":false},"axis":null}}}
]
},
{
"width":250,"height":703,
"data":{"name":"box"},
"resolve":{"scale":{"y":"independent"}},
"layer":[
{"data":{"values":[{}]},"mark":{"type":"rule","color":"black","strokeWidth":2.4},"encoding":{"y":{"datum":0,"type":"quantitative","scale":{"domain":[-99,401],"nice":false,"zero":false},"axis":{"orient":"left","values":[-25,0,25,75,100,125,175,200,225,275,300,325],"labelExpr":"datum.value - 100*round(datum.value/100)","title":null}}}},
{"data":{"values":[{}]},"mark":{"type":"rule","color":"black","strokeWidth":2.4},"encoding":{"y":{"datum":100,"type":"quantitative","scale":{"domain":[-99,401],"nice":false,"zero":false},"axis":null}}},
{"data":{"values":[{}]},"mark":{"type":"rule","color":"black","strokeWidth":2.4},"encoding":{"y":{"datum":200,"type":"quantitative","scale":{"domain":[-99,401],"nice":false,"zero":false},"axis":null}}},
{"data":{"values":[{}]},"mark":{"type":"rule","color":"black","strokeWidth":2.4},"encoding":{"y":{"datum":300,"type":"quantitative","scale":{"domain":[-99,401],"nice":false,"zero":false},"axis":null}}},
{"data":{"values":[{}]},"mark":{"type":"text","text":"b","color":"black","fontSize":23,"font":"Lato","align":"left","baseline":"alphabetic","dx":-32},"encoding":{"x":{"datum":"No melt","type":"nominal","scale":{"domain":["No melt","Melting snow","Melting ice"],"paddingInner":0,"paddingOuter":0},"axis":{"orient":"bottom","title":null,"labelAngle":-33,"labelAlign":"right","labelBaseline":"top","labelPadding":14,"labelOffset":8}},"y":{"datum":379.6,"type":"quantitative","scale":{"domain":[-99,401],"nice":false,"zero":false},"axis":null}}},

{"transform":[{"filter":"datum.series==='TAS_L'"}],"mark":{"type":"rule","color":"#e62a2e","strokeWidth":2.2,"strokeDash":[10,7]},"encoding":{"x":{"field":"cat","type":"nominal","scale":{"domain":["No melt","Melting snow","Melting ice"],"paddingInner":0,"paddingOuter":0},"axis":{"orient":"bottom","title":null,"labelAngle":-33,"labelAlign":"right","labelBaseline":"top","labelPadding":14,"labelOffset":8}},"y":{"field":"lo","type":"quantitative","scale":{"domain":[-399,101],"nice":false,"zero":false},"axis":null},"y2":{"field":"q1"}}},
{"transform":[{"filter":"datum.series==='TAS_L'"}],"mark":{"type":"rule","color":"#e62a2e","strokeWidth":2.2,"strokeDash":[10,7]},"encoding":{"x":{"field":"cat","type":"nominal","scale":{"domain":["No melt","Melting snow","Melting ice"],"paddingInner":0,"paddingOuter":0},"axis":{"orient":"bottom","title":null,"labelAngle":-33,"labelAlign":"right","labelBaseline":"top","labelPadding":14,"labelOffset":8}},"y":{"field":"q3","type":"quantitative","scale":{"domain":[-399,101],"nice":false,"zero":false},"axis":null},"y2":{"field":"hi"}}},
{"transform":[{"filter":"datum.series==='TAS_L'"}],"mark":{"type":"bar","filled":false,"size":39,"color":"#e62a2e","strokeWidth":2.2},"encoding":{"x":{"field":"cat","type":"nominal","scale":{"domain":["No melt","Melting snow","Melting ice"],"paddingInner":0,"paddingOuter":0},"axis":{"orient":"bottom","title":null,"labelAngle":-33,"labelAlign":"right","labelBaseline":"top","labelPadding":14,"labelOffset":8}},"y":{"field":"q1","type":"quantitative","scale":{"domain":[-399,101],"nice":false,"zero":false},"axis":null},"y2":{"field":"q3"}}},
{"transform":[{"filter":"datum.series==='TAS_L'"}],"mark":{"type":"tick","size":39,"thickness":2.2,"color":"#e62a2e","opacity":1},"encoding":{"x":{"field":"cat","type":"nominal","scale":{"domain":["No melt","Melting snow","Melting ice"],"paddingInner":0,"paddingOuter":0},"axis":{"orient":"bottom","title":null,"labelAngle":-33,"labelAlign":"right","labelBaseline":"top","labelPadding":14,"labelOffset":8}},"y":{"field":"med","type":"quantitative","scale":{"domain":[-399,101],"nice":false,"zero":false},"axis":null}}},
{"transform":[{"filter":"datum.series==='TAS_L'"},{"fold":["lo","hi"],"as":["end","val"]}],"mark":{"type":"tick","size":18,"thickness":2.2,"color":"#e62a2e","opacity":1},"encoding":{"x":{"field":"cat","type":"nominal","scale":{"domain":["No melt","Melting snow","Melting ice"],"paddingInner":0,"paddingOuter":0},"axis":{"orient":"bottom","title":null,"labelAngle":-33,"labelAlign":"right","labelBaseline":"top","labelPadding":14,"labelOffset":8}},"y":{"field":"val","type":"quantitative","scale":{"domain":[-399,101],"nice":false,"zero":false},"axis":null}}},

{"transform":[{"filter":"datum.series==='TAS_U'"}],"mark":{"type":"rule","color":"#4a8ac6","strokeWidth":2.2,"strokeDash":[10,7]},"encoding":{"x":{"field":"cat","type":"nominal","scale":{"domain":["No melt","Melting snow","Melting ice"],"paddingInner":0,"paddingOuter":0},"axis":{"orient":"bottom","title":null,"labelAngle":-33,"labelAlign":"right","labelBaseline":"top","labelPadding":14,"labelOffset":8}},"y":{"field":"lo","type":"quantitative","scale":{"domain":[-299,201],"nice":false,"zero":false},"axis":null},"y2":{"field":"q1"}}},
{"transform":[{"filter":"datum.series==='TAS_U'"}],"mark":{"type":"rule","color":"#4a8ac6","strokeWidth":2.2,"strokeDash":[10,7]},"encoding":{"x":{"field":"cat","type":"nominal","scale":{"domain":["No melt","Melting snow","Melting ice"],"paddingInner":0,"paddingOuter":0},"axis":{"orient":"bottom","title":null,"labelAngle":-33,"labelAlign":"right","labelBaseline":"top","labelPadding":14,"labelOffset":8}},"y":{"field":"q3","type":"quantitative","scale":{"domain":[-299,201],"nice":false,"zero":false},"axis":null},"y2":{"field":"hi"}}},
{"transform":[{"filter":"datum.series==='TAS_U'"}],"mark":{"type":"bar","filled":false,"size":39,"color":"#4a8ac6","strokeWidth":2.2},"encoding":{"x":{"field":"cat","type":"nominal","scale":{"domain":["No melt","Melting snow","Melting ice"],"paddingInner":0,"paddingOuter":0},"axis":{"orient":"bottom","title":null,"labelAngle":-33,"labelAlign":"right","labelBaseline":"top","labelPadding":14,"labelOffset":8}},"y":{"field":"q1","type":"quantitative","scale":{"domain":[-299,201],"nice":false,"zero":false},"axis":null},"y2":{"field":"q3"}}},
{"transform":[{"filter":"datum.series==='TAS_U'"}],"mark":{"type":"tick","size":39,"thickness":2.2,"color":"#4a8ac6","opacity":1},"encoding":{"x":{"field":"cat","type":"nominal","scale":{"domain":["No melt","Melting snow","Melting ice"],"paddingInner":0,"paddingOuter":0},"axis":{"orient":"bottom","title":null,"labelAngle":-33,"labelAlign":"right","labelBaseline":"top","labelPadding":14,"labelOffset":8}},"y":{"field":"med","type":"quantitative","scale":{"domain":[-299,201],"nice":false,"zero":false},"axis":null}}},
{"transform":[{"filter":"datum.series==='TAS_U'"},{"fold":["lo","hi"],"as":["end","val"]}],"mark":{"type":"tick","size":18,"thickness":2.2,"color":"#4a8ac6","opacity":1},"encoding":{"x":{"field":"cat","type":"nominal","scale":{"domain":["No melt","Melting snow","Melting ice"],"paddingInner":0,"paddingOuter":0},"axis":{"orient":"bottom","title":null,"labelAngle":-33,"labelAlign":"right","labelBaseline":"top","labelPadding":14,"labelOffset":8}},"y":{"field":"val","type":"quantitative","scale":{"domain":[-299,201],"nice":false,"zero":false},"axis":null}}},

{"transform":[{"filter":"datum.series==='TAS_A'"}],"mark":{"type":"rule","color":"#5cb85a","strokeWidth":2.2,"strokeDash":[10,7]},"encoding":{"x":{"field":"cat","type":"nominal","scale":{"domain":["No melt","Melting snow","Melting ice"],"paddingInner":0,"paddingOuter":0},"axis":{"orient":"bottom","title":null,"labelAngle":-33,"labelAlign":"right","labelBaseline":"top","labelPadding":14,"labelOffset":8}},"y":{"field":"lo","type":"quantitative","scale":{"domain":[-199,301],"nice":false,"zero":false},"axis":null},"y2":{"field":"q1"}}},
{"transform":[{"filter":"datum.series==='TAS_A'"}],"mark":{"type":"rule","color":"#5cb85a","strokeWidth":2.2,"strokeDash":[10,7]},"encoding":{"x":{"field":"cat","type":"nominal","scale":{"domain":["No melt","Melting snow","Melting ice"],"paddingInner":0,"paddingOuter":0},"axis":{"orient":"bottom","title":null,"labelAngle":-33,"labelAlign":"right","labelBaseline":"top","labelPadding":14,"labelOffset":8}},"y":{"field":"q3","type":"quantitative","scale":{"domain":[-199,301],"nice":false,"zero":false},"axis":null},"y2":{"field":"hi"}}},
{"transform":[{"filter":"datum.series==='TAS_A'"}],"mark":{"type":"bar","filled":false,"size":39,"color":"#5cb85a","strokeWidth":2.2},"encoding":{"x":{"field":"cat","type":"nominal","scale":{"domain":["No melt","Melting snow","Melting ice"],"paddingInner":0,"paddingOuter":0},"axis":{"orient":"bottom","title":null,"labelAngle":-33,"labelAlign":"right","labelBaseline":"top","labelPadding":14,"labelOffset":8}},"y":{"field":"q1","type":"quantitative","scale":{"domain":[-199,301],"nice":false,"zero":false},"axis":null},"y2":{"field":"q3"}}},
{"transform":[{"filter":"datum.series==='TAS_A'"}],"mark":{"type":"tick","size":39,"thickness":2.2,"color":"#5cb85a","opacity":1},"encoding":{"x":{"field":"cat","type":"nominal","scale":{"domain":["No melt","Melting snow","Melting ice"],"paddingInner":0,"paddingOuter":0},"axis":{"orient":"bottom","title":null,"labelAngle":-33,"labelAlign":"right","labelBaseline":"top","labelPadding":14,"labelOffset":8}},"y":{"field":"med","type":"quantitative","scale":{"domain":[-199,301],"nice":false,"zero":false},"axis":null}}},
{"transform":[{"filter":"datum.series==='TAS_A'"},{"fold":["lo","hi"],"as":["end","val"]}],"mark":{"type":"tick","size":18,"thickness":2.2,"color":"#5cb85a","opacity":1},"encoding":{"x":{"field":"cat","type":"nominal","scale":{"domain":["No melt","Melting snow","Melting ice"],"paddingInner":0,"paddingOuter":0},"axis":{"orient":"bottom","title":null,"labelAngle":-33,"labelAlign":"right","labelBaseline":"top","labelPadding":14,"labelOffset":8}},"y":{"field":"val","type":"quantitative","scale":{"domain":[-199,301],"nice":false,"zero":false},"axis":null}}},

{"transform":[{"filter":"datum.series==='S21'"}],"mark":{"type":"rule","color":"#ff8b1e","strokeWidth":2.2,"strokeDash":[10,7]},"encoding":{"x":{"field":"cat","type":"nominal","scale":{"domain":["No melt","Melting snow","Melting ice"],"paddingInner":0,"paddingOuter":0},"axis":{"orient":"bottom","title":null,"labelAngle":-33,"labelAlign":"right","labelBaseline":"top","labelPadding":14,"labelOffset":8}},"y":{"field":"lo","type":"quantitative","scale":{"domain":[-99,401],"nice":false,"zero":false},"axis":null},"y2":{"field":"q1"}}},
{"transform":[{"filter":"datum.series==='S21'"}],"mark":{"type":"rule","color":"#ff8b1e","strokeWidth":2.2,"strokeDash":[10,7]},"encoding":{"x":{"field":"cat","type":"nominal","scale":{"domain":["No melt","Melting snow","Melting ice"],"paddingInner":0,"paddingOuter":0},"axis":{"orient":"bottom","title":null,"labelAngle":-33,"labelAlign":"right","labelBaseline":"top","labelPadding":14,"labelOffset":8}},"y":{"field":"q3","type":"quantitative","scale":{"domain":[-99,401],"nice":false,"zero":false},"axis":null},"y2":{"field":"hi"}}},
{"transform":[{"filter":"datum.series==='S21'"}],"mark":{"type":"bar","filled":false,"size":39,"color":"#ff8b1e","strokeWidth":2.2},"encoding":{"x":{"field":"cat","type":"nominal","scale":{"domain":["No melt","Melting snow","Melting ice"],"paddingInner":0,"paddingOuter":0},"axis":{"orient":"bottom","title":null,"labelAngle":-33,"labelAlign":"right","labelBaseline":"top","labelPadding":14,"labelOffset":8}},"y":{"field":"q1","type":"quantitative","scale":{"domain":[-99,401],"nice":false,"zero":false},"axis":null},"y2":{"field":"q3"}}},
{"transform":[{"filter":"datum.series==='S21'"}],"mark":{"type":"tick","size":39,"thickness":2.2,"color":"#ff8b1e","opacity":1},"encoding":{"x":{"field":"cat","type":"nominal","scale":{"domain":["No melt","Melting snow","Melting ice"],"paddingInner":0,"paddingOuter":0},"axis":{"orient":"bottom","title":null,"labelAngle":-33,"labelAlign":"right","labelBaseline":"top","labelPadding":14,"labelOffset":8}},"y":{"field":"med","type":"quantitative","scale":{"domain":[-99,401],"nice":false,"zero":false},"axis":null}}},
{"transform":[{"filter":"datum.series==='S21'"},{"fold":["lo","hi"],"as":["end","val"]}],"mark":{"type":"tick","size":18,"thickness":2.2,"color":"#ff8b1e","opacity":1},"encoding":{"x":{"field":"cat","type":"nominal","scale":{"domain":["No melt","Melting snow","Melting ice"],"paddingInner":0,"paddingOuter":0},"axis":{"orient":"bottom","title":null,"labelAngle":-33,"labelAlign":"right","labelBaseline":"top","labelPadding":14,"labelOffset":8}},"y":{"field":"val","type":"quantitative","scale":{"domain":[-99,401],"nice":false,"zero":false},"axis":null}}}
]
}
],
"config":{
"font":"Lato",
"view":{"stroke":"#262626","strokeWidth":1.5},
"axis":{"labelFont":"Lato","labelFontSize":17,"labelColor":"#262626","tickColor":"#262626","domainColor":"#262626","domainWidth":1.5,"tickWidth":1.5,"tickSize":-7,"grid":false,"titleFont":"Lato","titleFontSize":17,"titleFontWeight":"normal","titleColor":"#262626","labelPadding":15},
"point":{"opacity":1},
"tick":{"opacity":1}
}
}
